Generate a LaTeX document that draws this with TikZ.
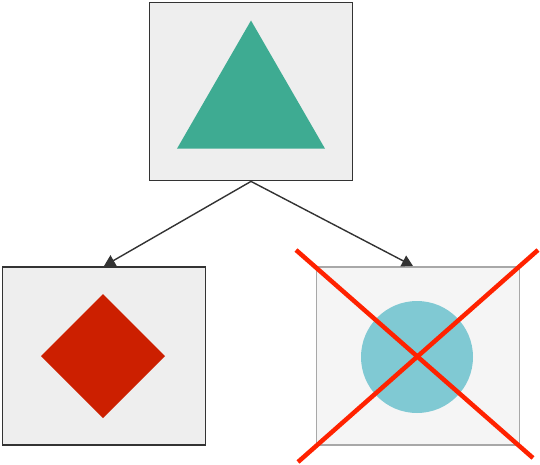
\documentclass[tikz,border=0pt]{standalone}
\usetikzlibrary{shapes.geometric,arrows.meta}
\definecolor{boxFill}{HTML}{EEEEEE}
\definecolor{boxLine}{HTML}{333333}
\definecolor{fadeFill}{HTML}{F5F5F5}
\definecolor{fadeLine}{HTML}{A8A8A8}
\definecolor{triColor}{HTML}{3EAB92}
\definecolor{diaColor}{HTML}{CC1F00}
\definecolor{cirColor}{HTML}{80C9D3}
\definecolor{crossColor}{HTML}{FF2200}
\begin{document}
\begin{tikzpicture}
[x=1pt,y=-1pt,
  boxDecorate/.style={shape=rectangle,minimum width=203pt,minimum height=178pt,inner sep=0pt,fill=boxFill,draw=boxLine,line width=1.8pt},%
  fadeDecorate/.style={boxDecorate,fill=fadeFill,draw=fadeLine},%
  shapeDecorate/.style={inner sep=0pt,outer sep=0pt,draw=none},%
  lineDecorate/.style={-{Triangle[length=11pt,width=12pt]},draw=boxLine,fill=boxLine,line width=1.4pt},%
  crossDecorate/.style={draw=crossColor,line width=4.5pt}]
\useasboundingbox (0,0) rectangle (540,465);
%% boxes
\node (top) at (251,91.5) [boxDecorate] {};
\node (left) at (104,356) [boxDecorate] {};
\node (right) at (418,356) [fadeDecorate] {};
%% shapes inside
\node (tri) at (251,106) [shapeDecorate,regular polygon,regular polygon sides=3,minimum size=171pt,fill=triColor] {};
\node (dia) at (103,356) [shapeDecorate,diamond,minimum width=124pt,minimum height=124pt,fill=diaColor] {};
\node (cir) at (417,357) [shapeDecorate,circle,minimum size=112pt,fill=cirColor] {};
%% cross
\coordinate (c1) at (296,250);
\coordinate (c2) at (533,458);
\coordinate (c3) at (538,250);
\coordinate (c4) at (298,462);
%% edges
\coordinate (leftIn) at (104,266);
\coordinate (rightIn) at (413,266);
\path
\foreach \endnode in {leftIn, rightIn}
{
  (top.south) edge[lineDecorate] (\endnode)
};
\draw[crossDecorate] (c1) -- (c2);
\draw[crossDecorate] (c3) -- (c4);
\end{tikzpicture}
\end{document}
